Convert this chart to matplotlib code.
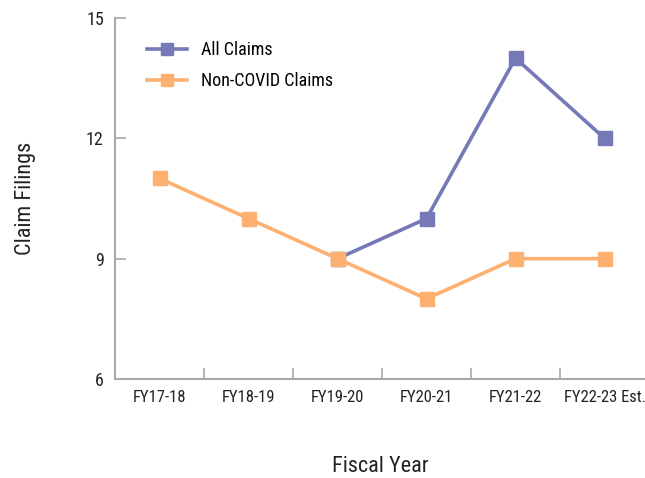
import matplotlib
matplotlib.use("Agg")
import matplotlib.pyplot as plt
from matplotlib import font_manager

# claim filings by fiscal year
years = ["FY17-18", "FY18-19", "FY19-20", "FY20-21", "FY21-22", "FY22-23 Est."]
all_claims = [None, None, 9, 10, 14, 12]
non_covid = [11, 10, 9, 8, 9, 9]
y_ticks = [6, 9, 12, 15]

# narrow face if there is one
names = {f.name for f in font_manager.fontManager.ttflist}
for fam in ["Roboto Condensed", "Liberation Sans Narrow", "Open Sans Condensed", "DejaVu Sans Condensed"]:
    if fam in names:
        plt.rcParams["font.family"] = [fam, "DejaVu Sans"]
        break
plt.rcParams["font.stretch"] = "condensed"

purple = "#7579B8"
orange = "#FDB06F"
grey = "#A9A9A9"
ink = "#222222"

fig = plt.figure(figsize=(6.45, 4.78), dpi=100)
ax = fig.add_axes([115 / 645, 99 / 478, 530 / 645, 361 / 478])

x = list(range(len(years)))
xa = [i for i, v in zip(x, all_claims) if v is not None]
ya = [v for v in all_claims if v is not None]
ax.plot(xa, ya, color=purple, lw=2.6, marker="s", ms=10, label="All Claims", zorder=3)
ax.plot(x, non_covid, color=orange, lw=2.6, marker="s", ms=10, label="Non-COVID Claims", zorder=4)

ax.set_xlim(-0.5, 5.455)
ax.set_ylim(6, 15)
ax.set_yticks(y_ticks)
ax.set_yticklabels([str(t) for t in y_ticks], fontsize=13, color=ink)

# category labels centered, ticks on the boundaries
ax.set_xticks([i + 0.5 for i in range(len(years) - 1)])
ax.set_xticklabels([])
ax.set_xticks(x, minor=True)
ax.set_xticklabels(years, minor=True, fontsize=12, color=ink)
ax.tick_params(axis="x", which="major", direction="in", length=8, color=grey, width=1.2)
ax.tick_params(axis="x", which="minor", length=0, pad=8)
ax.tick_params(axis="y", direction="in", length=8, color=grey, width=1.2, pad=8)

for s in ["top", "right"]:
    ax.spines[s].set_visible(False)
for s in ["left", "bottom"]:
    ax.spines[s].set_color(grey)
    ax.spines[s].set_linewidth(1.5)

ax.set_xlabel("Fiscal Year", fontsize=16, color=ink, labelpad=37)
ax.set_ylabel("Claim Filings", fontsize=16, color=ink, labelpad=36)

ax.legend(loc="upper left", bbox_to_anchor=(0.03, 0.98), frameon=False, fontsize=13,
          handlelength=2.2, labelspacing=0.7, markerscale=0.8)

fig.savefig("out.png", dpi=100)
